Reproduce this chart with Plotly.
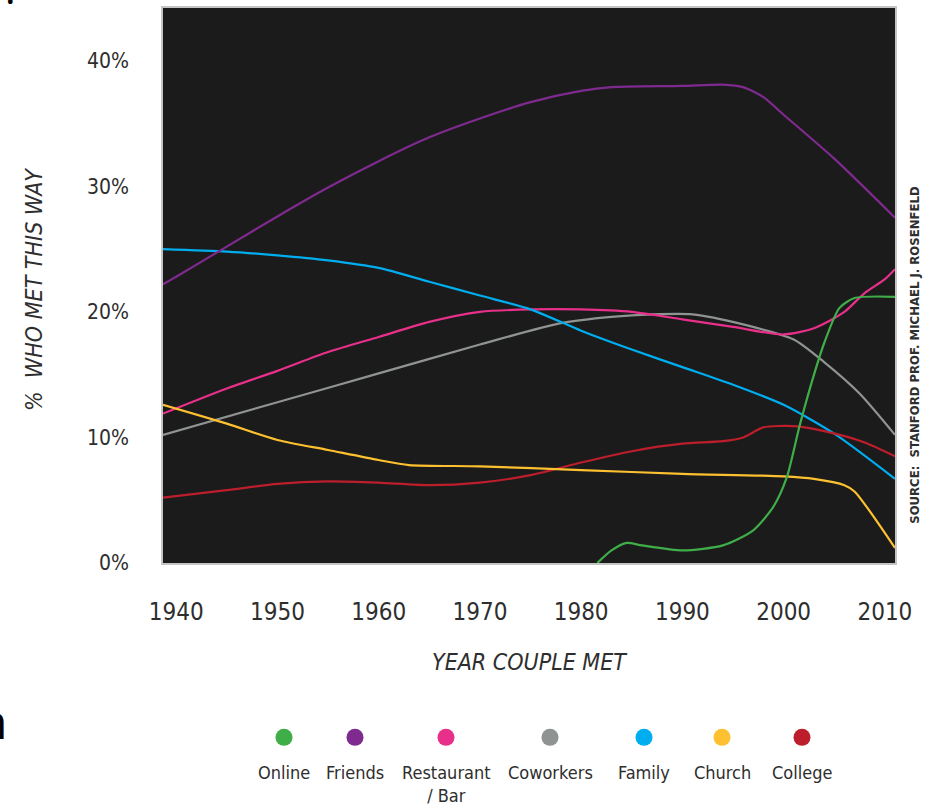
import plotly.graph_objects as go

# ---------------- data ----------------
online_years = [1981.6, 1983, 1984.5, 1986, 1990, 1994, 1997, 1999, 2000.3, 2001.6, 2003, 2004, 2005.5, 2007, 2011]
online_vals  = [0.0, 1.0, 1.6, 1.4, 1.0, 1.4, 2.6, 4.5, 6.8, 11.0, 15.0, 17.5, 20.3, 21.1, 21.2]

friends_years = [1938.7, 1940, 1945, 1950, 1955, 1960, 1965, 1970, 1975, 1980, 1983, 1990, 1994, 1996, 1998, 2000, 2005, 2011]
friends_vals  = [22.2, 22.8, 25.2, 27.6, 29.9, 32.0, 33.9, 35.4, 36.7, 37.6, 37.9, 38.0, 38.1, 37.9, 37.1, 35.7, 32.2, 27.5]

restaurant_years = [1938.7, 1945, 1950, 1955, 1960, 1965, 1970, 1975, 1980, 1985, 1990, 1995, 2000, 2003, 2006, 2008, 2010, 2011]
restaurant_vals  = [11.9, 13.9, 15.3, 16.8, 18.0, 19.2, 20.0, 20.2, 20.2, 20.0, 19.4, 18.8, 18.2, 18.7, 20.0, 21.5, 22.6, 23.4]

coworkers_years = [1938.7, 1950, 1960, 1970, 1978, 1983, 1987, 1991, 1996, 2001, 2004, 2007.5, 2011]
coworkers_vals  = [10.2, 12.8, 15.1, 17.4, 19.1, 19.6, 19.8, 19.8, 19.0, 17.8, 16.0, 13.5, 10.2]

family_years = [1938.7, 1945, 1950, 1955, 1960, 1965, 1970, 1975, 1980, 1985, 1990, 1995, 2000, 2005, 2011]
family_vals  = [25.0, 24.8, 24.5, 24.1, 23.5, 22.4, 21.3, 20.2, 18.5, 17.0, 15.6, 14.2, 12.6, 10.3, 6.7]

church_years = [1938.7, 1945, 1950, 1955, 1960, 1963, 1970, 1980, 1990, 2000, 2003, 2006, 2007, 2011]
church_vals  = [12.6, 11.1, 9.8, 9.0, 8.2, 7.8, 7.7, 7.4, 7.1, 6.9, 6.7, 6.2, 5.7, 1.2]

college_years = [1938.7, 1945, 1950, 1955, 1960, 1965, 1970, 1975, 1980, 1985, 1990, 1994, 1996, 1998, 2001, 2004, 2008, 2011]
college_vals  = [5.2, 5.8, 6.3, 6.5, 6.4, 6.2, 6.4, 7.0, 8.0, 8.9, 9.5, 9.7, 10.0, 10.8, 10.9, 10.5, 9.6, 8.5]

series_names = ["Online", "Friends", "Restaurant / Bar", "Coworkers", "Family", "Church", "College"]
legend_labels = ["Online", "Friends", "Restaurant<br>/ Bar", "Coworkers", "Family", "Church", "College"]
x_ticks = [1940, 1950, 1960, 1970, 1980, 1990, 2000, 2010]
y_ticks = [0, 10, 20, 30, 40]
y_tick_text = ["0%", "10%", "20%", "30%", "40%"]

# ---------------- styling ----------------
colors = ["#3fae49", "#7f2a8f", "#e8308a", "#8f9392", "#00adef", "#fdc030", "#bd1e2c"]
data = [(online_years, online_vals), (friends_years, friends_vals),
        (restaurant_years, restaurant_vals), (coworkers_years, coworkers_vals),
        (family_years, family_vals), (church_years, church_vals),
        (college_years, college_vals)]
draw_order = [3, 2, 4, 6, 5, 1, 0]

W, H = 930, 807
L, R, T, B = 163, 35, 6, 244
PW, PH = W - L - R, H - T - B
NARROW = "DejaVu Sans Condensed, Liberation Sans Narrow, Arial Narrow, sans-serif"
TXT = "#2e2e2e"

def px(xp):
    return (xp - L) / PW

def py(yp):
    return (H - B - yp) / PH

fig = go.Figure()
for i in draw_order:
    xs, ys = data[i]
    fig.add_trace(go.Scatter(x=xs, y=ys, mode="lines", name=series_names[i],
                             line=dict(color=colors[i], width=2.2, shape="spline", smoothing=0.7),
                             showlegend=False, hoverinfo="x+y+name"))

annotations = []
shapes = []

# axis titles
annotations.append(dict(text="<i>YEAR COUPLE MET</i>", x=px(529), y=py(662), xref="paper", yref="paper",
                        showarrow=False, xanchor="center", yanchor="middle",
                        font=dict(family=NARROW, size=23, color=TXT)))
annotations.append(dict(text="<i>%  WHO MET THIS WAY</i>", x=px(34), y=py(289), xref="paper", yref="paper",
                        showarrow=False, xanchor="center", yanchor="middle",
                        font=dict(family=NARROW, size=23, color=TXT), textangle=-90))

# source note
annotations.append(dict(text="<b>SOURCE:  STANFORD PROF. MICHAEL J. ROSENFELD</b>", x=px(915), y=py(354),
                        xref="paper", yref="paper", showarrow=False, xanchor="center", yanchor="middle",
                        font=dict(family=NARROW, size=13, color=TXT), textangle=-90))

# custom legend: dot above label
legend_x = [284, 355, 446, 550, 644, 722, 802]
for i in range(len(series_names)):
    shapes.append(dict(type="circle", xref="paper", yref="paper", xsizemode="pixel", ysizemode="pixel",
                       xanchor=px(legend_x[i]), yanchor=py(738), x0=-8.5, x1=8.5, y0=-8.5, y1=8.5,
                       fillcolor=colors[i], line=dict(width=0)))
    annotations.append(dict(text=legend_labels[i], x=px(legend_x[i]), y=py(761), xref="paper", yref="paper",
                            showarrow=False, xanchor="center", yanchor="top", align="center",
                            font=dict(family=NARROW, size=18, color=TXT)))

# cropped page-text fragments visible in the reference
annotations.append(dict(text="!", x=px(10), y=py(16), xref="paper", yref="paper", showarrow=False,
                        xanchor="center", yanchor="bottom", font=dict(family="Open Sans", size=40, color="#000")))
annotations.append(dict(text="n", x=px(9), y=py(756), xref="paper", yref="paper", showarrow=False,
                        xanchor="right", yanchor="bottom", font=dict(family="Open Sans", size=48, color="#000")))

fig.update_layout(
    width=W, height=H,
    margin=dict(l=L, r=R, t=T, b=B, pad=0),
    paper_bgcolor="white", plot_bgcolor="#1b1b1b",
    annotations=annotations, shapes=shapes,
    showlegend=False,
    xaxis=dict(range=[1938.7, 2011.0], tickvals=x_ticks, ticks="", showgrid=False, zeroline=False,
               showline=True, linecolor="#c4c4c4", linewidth=1.5, mirror=True,
               tickfont=dict(family=NARROW, size=24, color=TXT), ticklabelstandoff=26),
    yaxis=dict(range=[0, 44.2], tickvals=y_ticks, ticktext=y_tick_text, ticks="", showgrid=False, zeroline=False,
               showline=True, linecolor="#c4c4c4", linewidth=1.5, mirror=True,
               tickfont=dict(family=NARROW, size=21, color=TXT), ticklabelstandoff=28),
)

fig.write_html("out.html")
